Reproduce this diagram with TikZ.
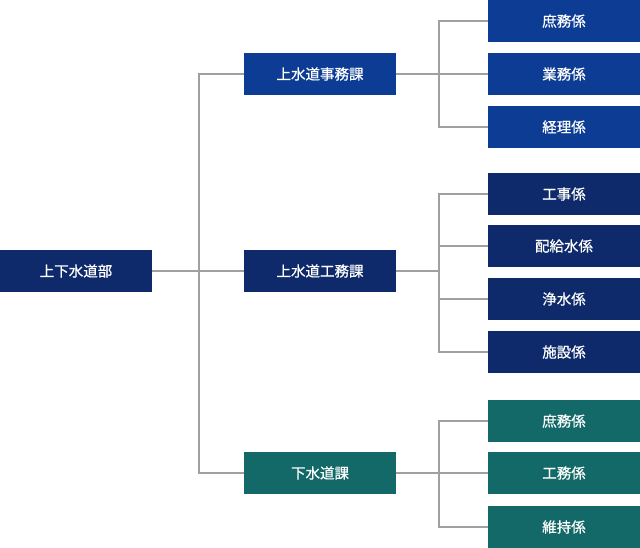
\documentclass[tikz,border=0pt]{standalone}
\usepackage{fontspec}
\setmainfont{Noto Sans CJK JP}
\newfontfamily\boxfont{Noto Sans CJK JP}[FakeBold=0.6]
\definecolor{blueA}{RGB}{13,60,148}
\definecolor{navyA}{RGB}{15,42,106}
\definecolor{tealA}{RGB}{18,105,104}
\definecolor{lineA}{RGB}{160,160,160}
\begin{document}
\begin{tikzpicture}[x=1pt,y=-1pt,
  box/.style={minimum width=152pt,minimum height=42pt,inner sep=0pt,text=white,font=\boxfont\fontsize{14.5pt}{16pt}\selectfont},
  bluebox/.style={box,fill=blueA},
  navybox/.style={box,fill=navyA},
  tealbox/.style={box,fill=tealA},
  conn/.style={draw=lineA,line width=2.6pt}]
\useasboundingbox (0,0) rectangle (640,548);
% root
\node[navybox] (root) at (76,271) {上下水道部};
% middle
\node[bluebox] (m1) at (320,74) {上水道事務課};
\node[navybox] (m2) at (320,271) {上水道工務課};
\node[tealbox] (m3) at (320,473) {下水道課};
% leaves
\node[bluebox] (a1) at (564,21) {庶務係};
\node[bluebox] (a2) at (564,74) {業務係};
\node[bluebox] (a3) at (564,127) {経理係};
\node[navybox] (b1) at (564,194) {工事係};
\node[navybox] (b2) at (564,246) {配給水係};
\node[navybox] (b3) at (564,299) {浄水係};
\node[navybox] (b4) at (564,352) {施設係};
\node[tealbox] (c1) at (564,421) {庶務係};
\node[tealbox] (c2) at (564,473) {工務係};
\node[tealbox] (c3) at (564,527) {維持係};
% coordinates
\coordinate (t0) at (199,271);
\coordinate (t1) at (439,74);
\coordinate (t2) at (439,271);
\coordinate (t3) at (439,473);
% connectors root
\draw[conn] (root.east) -- (m2.west);
\draw[conn] (m1.west) -| (t0) |- (m3.west);
% group 1
\draw[conn] (m1.east) -- (a2.west);
\draw[conn] (a1.west) -| (t1) |- (a3.west);
% group 2
\draw[conn] (m2.east) -- (t2);
\draw[conn] (b1.west) -| (t2) |- (b4.west);
\draw[conn] (t2 |- b2.west) -- (b2.west);
\draw[conn] (t2 |- b3.west) -- (b3.west);
% group 3
\draw[conn] (m3.east) -- (c2.west);
\draw[conn] (c1.west) -| (t3) |- (c3.west);
\end{tikzpicture}
\end{document}
